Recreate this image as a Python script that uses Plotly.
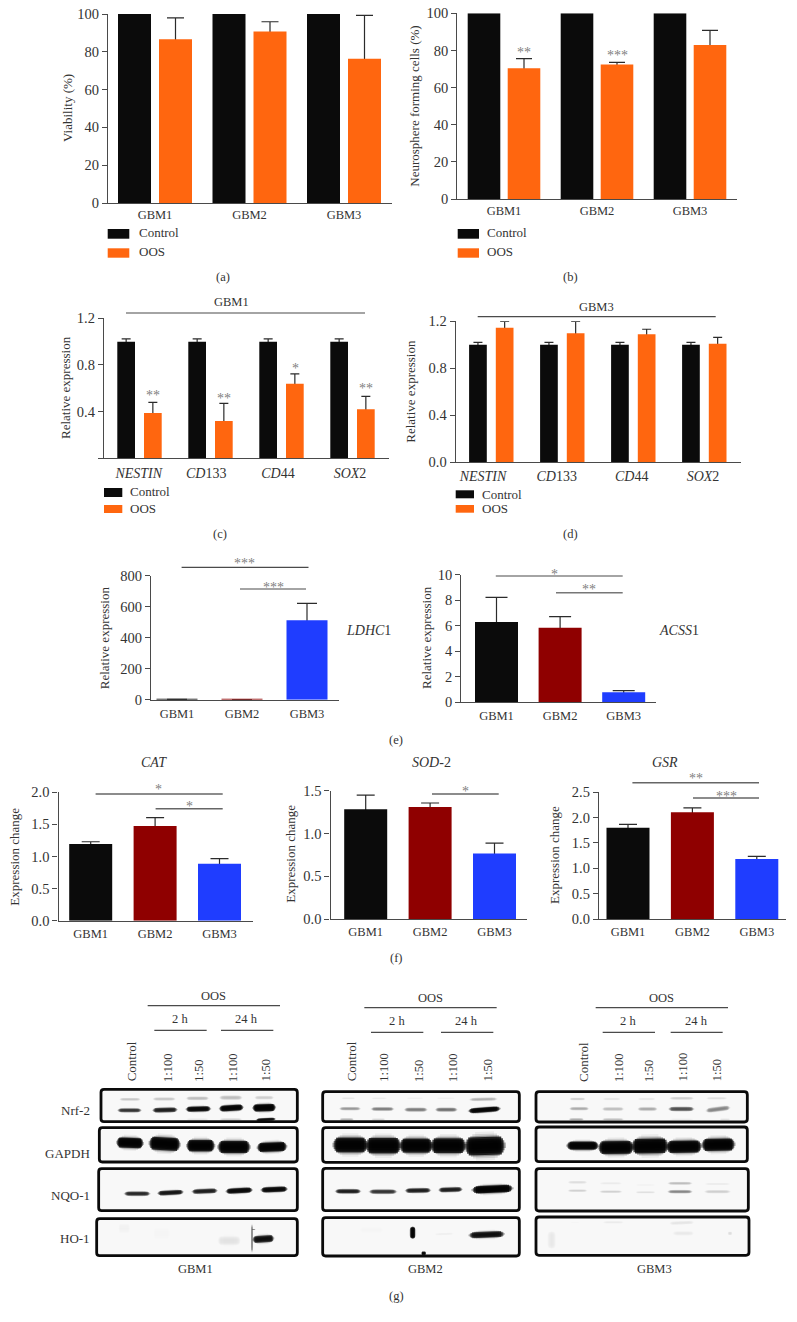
import plotly.graph_objects as go

# ---------- data ----------
GROUPS = ["GBM1", "GBM2", "GBM3"]
GENES = ["<i>NESTIN</i>", "<i>CD</i>133", "<i>CD</i>44", "<i>SOX</i>2"]

A_CONTROL = [100, 100, 100]
A_OOS = [86.7, 90.8, 76.3]
A_OOS_TOP = [97.9, 95.9, 99.3]

B_CONTROL = [100, 100, 100]
B_OOS = [70.4, 72.4, 82.9]
B_OOS_TOP = [75.6, 73.6, 90.8]

C_CONTROL = [1.0, 1.0, 1.0, 1.0]
C_CONTROL_TOP = [1.023, 1.023, 1.023, 1.023]
C_OOS = [0.389, 0.32, 0.64, 0.42]
C_OOS_TOP = [0.48, 0.471, 0.723, 0.531]

D_CONTROL = [1.0, 1.0, 1.0, 1.0]
D_CONTROL_TOP = [1.02, 1.02, 1.02, 1.02]
D_OOS = [1.146, 1.098, 1.089, 1.009]
D_OOS_TOP = [1.2, 1.2, 1.132, 1.063]

E1_VALUES = [1.5, 0.5, 512]
E1_TOPS = [1.5, 0.5, 621]
E2_VALUES = [6.28, 5.84, 0.76]
E2_TOPS = [8.22, 6.7, 0.89]

F1_VALUES = [1.195, 1.475, 0.888]
F1_TOPS = [1.23, 1.605, 0.966]
F2_VALUES = [1.282, 1.309, 0.767]
F2_TOPS = [1.449, 1.356, 0.888]
F3_VALUES = [1.8, 2.1, 1.185]
F3_TOPS = [1.865, 2.19, 1.237]

# Blot bands, in gel units: x0, y0, x1, y1, thickness, darkness
GBM1_BANDS = [
    (240, 343, 300, 343, 8, .22), (340, 342, 405, 342, 9, .22), (440, 340, 505, 340, 10, .25), (540, 338, 605, 338, 12, .25), (645, 338, 700, 338, 10, .2),
    (235, 376, 302, 376, 11, .65), (340, 376, 410, 374, 13, .75), (440, 373, 510, 371, 15, .9), (540, 371, 608, 367, 17, .95), (640, 369, 705, 367, 21, 1),
    (440, 403, 505, 403, 6, .12), (540, 403, 605, 403, 6, .2), (650, 405, 705, 402, 8, .85),
    (232, 472, 308, 475, 30, 1), (330, 474, 418, 479, 38, 1), (442, 482, 522, 482, 34, 1), (536, 486, 628, 486, 36, 1), (654, 488, 738, 484, 27, 1),
    (255, 626, 328, 626, 12, .7), (355, 625, 428, 621, 13, .8), (458, 620, 530, 617, 13, .75), (560, 619, 635, 615, 15, .9), (665, 615, 740, 612, 15, .9),
    (235, 730, 270, 730, 26, .07), (340, 745, 390, 745, 35, .04), (535, 767, 600, 767, 26, .13),
    (640, 764, 700, 760, 20, .85), (636, 720, 636, 800, 5, .45), (641, 732, 641, 733, 9, .8),
]
GBM2_BANDS = [
    (95, 340, 135, 340, 6, .12), (185, 340, 230, 340, 6, .1), (290, 340, 340, 340, 6, .08), (380, 340, 435, 340, 6, .08), (480, 344, 560, 342, 9, .28),
    (90, 371, 150, 371, 9, .35), (185, 372, 250, 372, 10, .42), (285, 374, 350, 374, 11, .42), (378, 374, 440, 374, 11, .45), (478, 378, 568, 371, 14, .95),
    (90, 403, 130, 403, 6, .28), (185, 403, 225, 403, 5, .18),
    (72, 480, 170, 480, 44, 1), (170, 482, 270, 482, 46, 1), (272, 482, 365, 482, 42, 1), (365, 482, 465, 482, 44, 1), (468, 485, 582, 481, 54, 1),
    (78, 619, 150, 619, 12, .75), (180, 620, 258, 620, 12, .65), (288, 617, 360, 616, 13, .75), (388, 615, 455, 613, 13, .75), (490, 615, 605, 610, 22, 1),
    (308, 726, 308, 760, 14, .95), (480, 751, 580, 747, 18, .85), (375, 748, 430, 746, 7, .08), (335, 805, 347, 805, 10, .9), (150, 735, 220, 735, 20, .04),
]
GBM3_BANDS = [
    (120, 342, 165, 342, 7, .2), (220, 342, 270, 342, 7, .12), (325, 342, 375, 342, 7, .12), (420, 340, 490, 340, 8, .2), (530, 340, 590, 340, 7, .15),
    (120, 371, 175, 371, 9, .3), (218, 372, 280, 372, 10, .25), (325, 372, 380, 372, 10, .3), (418, 372, 490, 372, 12, .55), (530, 377, 598, 368, 13, .4),
    (118, 403, 160, 403, 6, .3), (218, 403, 280, 403, 6, .25), (420, 403, 490, 403, 5, .1), (570, 403, 600, 403, 5, .15),
    (113, 482, 203, 482, 24, 1), (208, 488, 308, 487, 38, 1), (308, 484, 412, 482, 44, 1), (412, 486, 512, 484, 36, 1), (518, 480, 612, 478, 36, 1),
    (115, 592, 170, 592, 8, .15), (115, 617, 170, 617, 7, .2), (210, 595, 275, 595, 7, .1), (210, 620, 275, 620, 7, .2), (318, 600, 375, 600, 5, .08), (318, 622, 375, 622, 6, .15),
    (415, 595, 485, 595, 8, .25), (415, 620, 485, 620, 9, .4), (525, 597, 600, 597, 6, .1), (525, 620, 600, 620, 9, .2), (30, 570, 60, 570, 5, .05),
    (65, 740, 65, 790, 22, .1), (120, 712, 150, 712, 6, .05), (220, 712, 280, 712, 7, .1), (420, 715, 490, 712, 10, .12), (430, 745, 490, 745, 12, .1), (600, 740, 600, 750, 12, .15),
]
DOSES = ["Control", "1:100", "1:50", "1:100", "1:50"]
MARKERS = ["Nrf-2", "GAPDH", "NQO-1", "HO-1"]

# ---------- styling and layout ----------
W, H = 797, 1322
FONT = "Liberation Serif"
INK = "#333333"
AXIS = "#4a4a4a"
BLACK = "#0b0b0b"
ORANGE = "#ff660f"
RED = "#8f0000"
BLUE = "#1f3dff"
TRIO = [BLACK, RED, BLUE]

fig = go.Figure()
layout = {}
annotations = []
shapes = []
axis_count = 0


def text(x, y, s, size=12.5, anchor="center", color=INK, angle=0):
    annotations.append(dict(x=x / W, y=1 - y / H, xref="paper", yref="paper", text=s, showarrow=False,
                            xanchor=anchor, yanchor="middle", textangle=angle,
                            font=dict(family=FONT, size=size, color=color)))


def stars(x, y, s):
    text(x, y + 3, s, size=14, color="#808080")


def rule(x0, x1, y, color=AXIS, width=1.2):
    shapes.append(dict(type="line", xref="paper", yref="paper", x0=x0 / W, x1=x1 / W, y0=1 - y / H, y1=1 - y / H,
                       line=dict(color=color, width=width)))


def legend(x0, x1, rows, tx, labels=("Control", "OOS")):
    for (top, bottom, ymid), color, label in zip(rows, (BLACK, ORANGE), labels):
        shapes.append(dict(type="rect", xref="paper", yref="paper", x0=x0 / W, x1=x1 / W, y0=1 - bottom / H,
                           y1=1 - top / H, fillcolor=color, line=dict(width=0)))
        text(tx, ymid, label, size=13, anchor="left")


def new_axes(left, right, bottom, top, yrange, c0, period, n, yticks, ytext, cats,
             tick_shift=None, tick_size=12.5, y_size=14.5, standoff=0):
    global axis_count
    axis_count += 1
    i = axis_count
    sfx = "" if i == 1 else str(i)
    tv = [k + (tick_shift[k] if tick_shift else 0) for k in range(n)]
    layout["xaxis" + sfx] = dict(domain=[left / W, right / W], anchor="y" + sfx,
                                 range=[(left - c0) / period, (right - c0) / period],
                                 tickmode="array", tickvals=tv, ticktext=cats, ticks="", showgrid=False, zeroline=False,
                                 showline=True, linecolor=AXIS, linewidth=1.3, ticklabelstandoff=standoff,
                                 tickfont=dict(family=FONT, size=tick_size, color=INK))
    layout["yaxis" + sfx] = dict(domain=[1 - bottom / H, 1 - top / H], anchor="x" + sfx, range=yrange,
                                 tickmode="array", tickvals=yticks, ticktext=ytext, ticks="outside", ticklen=5, tickwidth=1.2,
                                 tickcolor=AXIS, showgrid=False, zeroline=False, showline=True, linecolor=AXIS, linewidth=1.3,
                                 tickfont=dict(family=FONT, size=y_size, color=INK))
    return "x" + sfx, "y" + sfx


def bars(ax, vals, tops, colors, offset, width, cap, name):
    xs = list(range(len(vals)))
    if tops is not None:
        # whiskers first, so the solid bar drawn next hides their lower half
        e = dict(type="data", symmetric=False, array=[t - v for t, v in zip(tops, vals)],
                 arrayminus=[0.5 * v for v in vals], color="#2b2b2b", thickness=1.2, width=cap)
        fig.add_trace(go.Bar(x=xs, y=vals, xaxis=ax[0], yaxis=ax[1], width=width, offset=offset, name=name + " SD",
                             marker=dict(color="rgba(0,0,0,0)", line=dict(width=0)), error_y=e, showlegend=False,
                             hoverinfo="skip"))
    fig.add_trace(go.Bar(x=xs, y=vals, xaxis=ax[0], yaxis=ax[1], width=width, offset=offset, name=name,
                         marker=dict(color=colors, line=dict(width=0)), showlegend=False, hoverinfo="skip"))


def paired(ax, control, control_top, oos, oos_top, period, w, gap, cap):
    bars(ax, control, control_top, BLACK, -(w + gap / 2) / period, w / period, cap, "Control")
    bars(ax, oos, oos_top, ORANGE, (gap / 2) / period, w / period, cap, "OOS")


def single(ax, vals, tops, period, w, cap):
    bars(ax, vals, tops, TRIO, -0.5 * w / period, w / period, cap, "Expression")


# (a)
ax = new_axes(108, 392, 203, 14, [0, 100], 155, 94.5, 3, [0, 20, 40, 60, 80, 100], ["0", "20", "40", "60", "80", "100"], GROUPS)
paired(ax, A_CONTROL, None, A_OOS, A_OOS_TOP, 94.5, 33, 8, 8.5)
text(67, 108, "Viability (%)", size=13, angle=-90)
legend(107.7, 129.3, [(229, 238.7, 233), (248.3, 257.7, 252)], 136.7)
text(223, 277, "(a)")

# (b)
ax = new_axes(457.3, 737, 199, 13.3, [0, 100], 504, 93, 3, [0, 20, 40, 60, 80, 100], ["0", "20", "40", "60", "80", "100"], GROUPS)
paired(ax, B_CONTROL, None, B_OOS, B_OOS_TOP, 93, 32.6, 7.4, 8)
text(415, 106.7, "Neurosphere forming cells (%)", size=13, angle=-90)
legend(457.7, 479, [(229, 238.7, 233), (248.3, 257.7, 252)], 485)
stars(524.3, 50, "**")
stars(617.3, 53, "***")
text(570.7, 277, "(b)")

# (c)
ax = new_axes(104, 389, 458.3, 318.3, [0, 1.2], 139.5, 71, 4, [0, 0.4, 0.8, 1.2], ["", "0.4", "0.8", "1.2"], GENES,
              tick_shift=[-0.01, -0.06, -0.05, -0.035], tick_size=14, standoff=2)
paired(ax, C_CONTROL, C_CONTROL_TOP, C_OOS, C_OOS_TOP, 71, 17.7, 9, 4.5)
text(65, 388, "Relative expression", size=13, angle=-90)
rule(126, 365, 313)
text(231.7, 301.7, "GBM1")
legend(104, 122.3, [(488, 497, 491), (505, 513, 508)], 128)
stars(153, 392.7, "**")
stars(223.7, 395.3, "**")
stars(295, 365.7, "*")
stars(366, 385.7, "**")
text(220, 534, "(c)")

# (d)
ax = new_axes(455.7, 740.7, 462, 321.3, [0, 1.2], 491.3, 71, 4, [0, 0.4, 0.8, 1.2], ["0.0", "0.4", "0.8", "1.2"], GENES,
              tick_shift=[-0.117, -0.079, -0.023, -0.018], tick_size=14, standoff=1)
paired(ax, D_CONTROL, D_CONTROL_TOP, D_OOS, D_OOS_TOP, 71, 17.7, 9, 4.5)
text(411, 391.7, "Relative expression", size=13, angle=-90)
rule(477.7, 715.7, 316.7)
text(596.7, 306.7, "GBM3")
legend(455.7, 474, [(490.3, 498.3, 494), (505, 512.7, 508)], 480)
text(570, 534, "(d)")

# (e)
ax = new_axes(151, 339, 699.7, 575.7, [0, 800], 177, 65, 3, [0, 200, 400, 600, 800], ["0", "200", "400", "600", "800"], GROUPS, standoff=2)
single(ax, E1_VALUES, E1_TOPS, 65, 41, 10)
text(104.5, 637.7, "Relative expression", size=13, angle=-90)
text(368.5, 630.7, "<i>LDHC</i>1", size=14)
rule(181.6, 308.5, 567.3)
rule(240, 306, 589)
stars(245, 560.7, "***")
stars(273.7, 584, "***")

ax = new_axes(461.4, 656, 702, 574.7, [0, 10], 496.5, 63.6, 3, [0, 2, 4, 6, 8, 10], ["0", "2", "4", "6", "8", "10"], GROUPS, standoff=2)
single(ax, E2_VALUES, E2_TOPS, 63.6, 43, 11)
text(426, 638, "Relative expression", size=13, angle=-90)
text(679, 630, "<i>ACSS</i>1", size=14)
rule(495.8, 622.7, 576)
rule(556, 622.7, 592.7, color="#777777", width=1.6)
stars(554, 571, "*")
stars(589, 587, "**")
text(396, 740, "(e)")

# (f)
ax = new_axes(58.5, 252.7, 920.7, 792.3, [0, 2], 90.7, 64.4, 3, [0, 0.5, 1, 1.5, 2], ["0.0", "0.5", "1.0", "1.5", "2.0"], GROUPS, standoff=1)
single(ax, F1_VALUES, F1_TOPS, 64.4, 43, 9)
text(15, 856.7, "Expression change", size=13, angle=-90)
text(154, 762.7, "<i>CAT</i>", size=14)
rule(95.6, 222.7, 794, color="#666666", width=1.4)
rule(155.6, 222.7, 808.7, color="#666666", width=1.4)
stars(158.6, 787, "*")
stars(189, 803, "*")

ax = new_axes(330.5, 526.7, 919, 790.7, [0, 1.5], 365.7, 64.4, 3, [0, 0.5, 1, 1.5], ["0.0", "0.5", "1.0", "1.5"], GROUPS, standoff=1)
single(ax, F2_VALUES, F2_TOPS, 64.4, 43, 9)
text(289.8, 854, "Expression change", size=13, angle=-90)
text(431, 762.7, "<i>SOD</i>-2", size=14)
rule(432, 498.7, 794, color="#666666", width=1.4)
stars(465.7, 788, "*")

ax = new_axes(599, 785.5, 919.3, 792, [0, 2.5], 628, 64.4, 3, [0, 0.5, 1, 1.5, 2, 2.5], ["0.0", "0.5", "1.0", "1.5", "2.0", "2.5"], GROUPS, standoff=1)
single(ax, F3_VALUES, F3_TOPS, 64.4, 43, 9)
text(554, 855, "Expression change", size=13, angle=-90)
text(664.5, 762.7, "<i>GSR</i>", size=14)
rule(632.4, 759, 782.7, color="#666666", width=1.4)
rule(693, 759, 798, color="#666666", width=1.4)
stars(695.5, 775.7, "**")
stars(726, 793.3, "***")
text(396.5, 958, "(f)")

# (g) western blots, each set on its own gel-unit axes (one gel unit = 1/3 px)
# layered strokes give each band a lens-like, soft-edged profile:
# (thickness multiplier, fraction of band length kept, opacity)
BLUR = [(1.6, .5, .05), (1.35, .65, .12), (1.15, .76, .3), (1.0, .87, .8), (0.8, .96, .7), (0.55, 1.02, .5), (0.3, 1.1, .3)]


def gel_axes(crop_x, crop_w):
    global axis_count
    axis_count += 1
    sfx = str(axis_count)
    layout["xaxis" + sfx] = dict(domain=[crop_x / W, (crop_x + crop_w) / W], range=[0, crop_w * 3], visible=False, anchor="y" + sfx)
    layout["yaxis" + sfx] = dict(domain=[1 - 1305 / H, 1 - 985 / H], range=[960, 0], visible=False, anchor="x" + sfx)
    return "x" + sfx, "y" + sfx


def gel_text(ax, x, y, s, anchor="center", angle=0, yanchor="middle", size=12.5):
    annotations.append(dict(x=x, y=y, xref=ax[0], yref=ax[1], text=s, showarrow=False, xanchor=anchor, yanchor=yanchor,
                            textangle=angle, font=dict(family=FONT, size=size, color=INK)))


def gel_line(ax, x0, x1, y):
    shapes.append(dict(type="line", xref=ax[0], yref=ax[1], x0=x0, x1=x1, y0=y, y1=y, line=dict(color=AXIS, width=1.2)))


def strip(ax, x0, x1, y0, y1):
    r = 9
    p = (f"M{x0 + r},{y0} L{x1 - r},{y0} Q{x1},{y0} {x1},{y0 + r} L{x1},{y1 - r} Q{x1},{y1} {x1 - r},{y1} "
         f"L{x0 + r},{y1} Q{x0},{y1} {x0},{y1 - r} L{x0},{y0 + r} Q{x0},{y0} {x0 + r},{y0} Z")
    shapes.append(dict(type="path", path=p, xref=ax[0], yref=ax[1], layer="below", fillcolor="#f8f8f8", line=dict(width=0)))
    shapes.append(dict(type="path", path=p, xref=ax[0], yref=ax[1], layer="above", line=dict(color="#0a0a0a", width=2.8)))


def gel(crop_x, crop_w, bands, strips, title, oos, two, day, lanes, name_pos, row_labels=None):
    ax = gel_axes(crop_x, crop_w)
    for (x0, y0, x1, y1, t, d) in bands:
        cx, cy = (x0 + x1) / 2, (y0 + y1) / 2
        strength = d ** 1.7  # stacked strokes add up, so weaken the faint ones
        for mult, keep, alpha in BLUR:
            xs = [cx + (x0 - cx) * keep, cx + (x1 - cx) * keep]
            ys = [cy + (y0 - cy) * keep, cy + (y1 - cy) * keep]
            fig.add_trace(go.Scatter(x=xs, y=ys, xaxis=ax[0], yaxis=ax[1], mode="lines", showlegend=False, hoverinfo="skip",
                                     line=dict(color=f"rgba(0,0,0,{alpha * strength:.3f})", width=t / 3 * mult)))
    for s in strips:
        strip(ax, *s)
    gel_text(ax, oos[0], oos[1], "OOS")
    gel_line(ax, oos[2], oos[3], oos[4])
    gel_text(ax, two[0], two[1], "2 h")
    gel_line(ax, two[2], two[3], two[4])
    gel_text(ax, day[0], day[1], "24 h")
    gel_line(ax, day[2], day[3], day[4])
    for x, s in zip(lanes, DOSES):
        gel_text(ax, x, 296, s, angle=-90, yanchor="bottom", size=13 if s == "Control" else 12.5)
    gel_text(ax, name_pos[0], name_pos[1], title)
    if row_labels:
        for (xr, y), s in zip(row_labels, MARKERS):
            gel_text(ax, xr, y, s, anchor="right", size=13)
    return ax


gel(40, 270, GBM1_BANDS, [(183, 772, 313, 410), (178, 772, 428, 531), (176, 772, 551, 677), (170, 772, 701, 812)],
    "GBM1", (520, 33, 323, 720, 62), (420, 103, 343, 500, 136), (620, 103, 543, 700, 136),
    [275, 382, 477, 577, 677], (467, 853), row_labels=[(157, 376), (157, 505), (155, 632), (155, 760)])
ax_g2 = gel(310, 240, GBM2_BANDS, [(38, 628, 320, 410), (38, 628, 428, 532), (38, 628, 550, 677), (38, 628, 698, 813)],
            "GBM2", (360, 38, 163, 560, 68), (260, 108, 183, 340, 142), (470, 108, 393, 550, 142),
            [125, 222, 325, 427, 533], (347, 853))
gel(530, 240, GBM3_BANDS, [(18, 652, 320, 411), (18, 652, 426, 530), (18, 655, 551, 678), (18, 657, 696, 811)],
    "GBM3", (395, 38, 197, 594, 68), (295, 108, 218, 375, 142), (500, 108, 422, 578, 142),
    [160, 265, 355, 458, 560], (372, 853))
gel_text(ax_g2, 258, 932, "(g)")

fig.update_layout(width=W, height=H, margin=dict(l=0, r=0, t=0, b=0, autoexpand=False), paper_bgcolor="white",
                  plot_bgcolor="rgba(0,0,0,0)", barmode="overlay", showlegend=False, hovermode=False,
                  annotations=annotations, shapes=shapes, font=dict(family=FONT, color=INK), **layout)

fig.write_html("out.html", config=dict(displayModeBar=False),
               post_script="document.body.style.margin='0';document.body.style.overflow='hidden';")
